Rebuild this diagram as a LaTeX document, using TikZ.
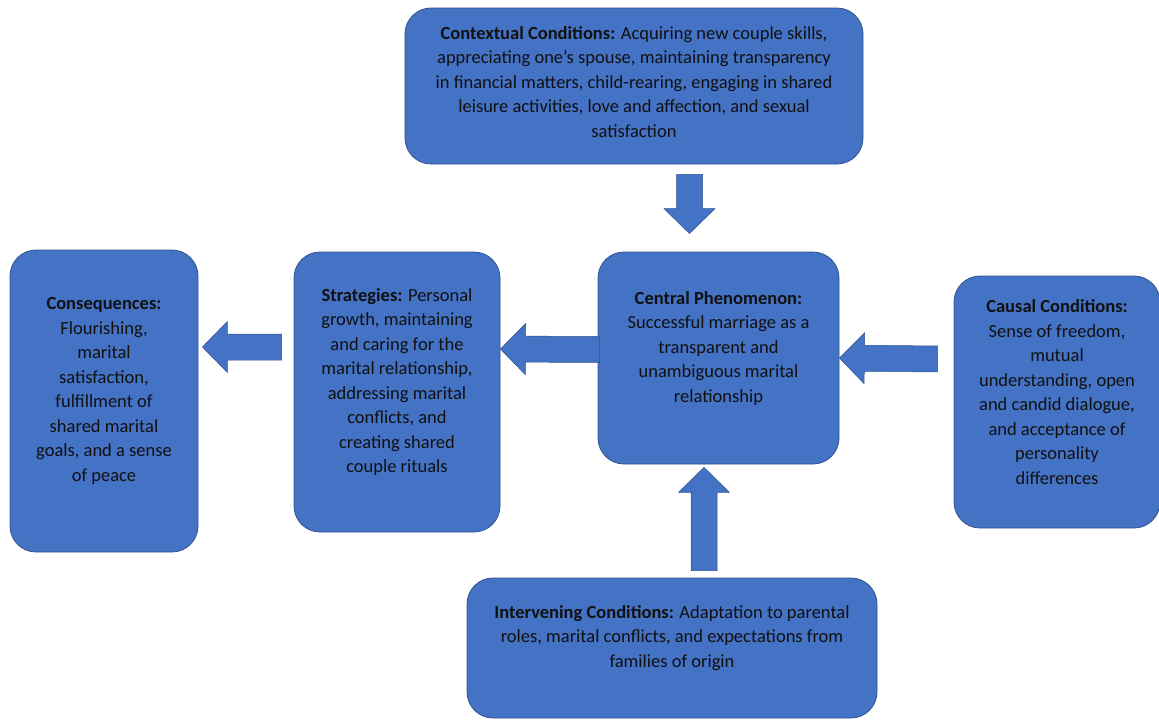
\documentclass[tikz,border=0pt]{standalone}
\usepackage{fontspec}
\setmainfont{Carlito}
\usetikzlibrary{calc}
\definecolor{boxblue}{HTML}{4472C4}
\definecolor{boxline}{HTML}{2F528F}
\definecolor{txtcol}{HTML}{111111}
\tikzset{
  box/.style={draw=boxline, fill=boxblue, line width=0.8pt, rounded corners=26pt, inner sep=0pt},
  txt/.style={align=center, text=txtcol, font=\fontsize{18.5}{24.5}\selectfont, inner sep=0pt},
  arrowfill/.style={fill=boxblue, draw=boxline, line width=0.5pt, line join=miter}
}
% block arrow from #1 to #2 (shaft 26pt, head 51pt x 25pt)
\newcommand\blockarrow[2]{%
  \coordinate (ba-s) at (#1); \coordinate (ba-e) at (#2);
  \coordinate (ba-h) at ($(ba-e)!25pt!(ba-s)$);
  \filldraw[arrowfill] ($(ba-s)!13pt!90:(ba-e)$) -- ($(ba-h)!13pt!-90:(ba-s)$)
    -- ($(ba-h)!25.5pt!-90:(ba-s)$) -- (ba-e) -- ($(ba-h)!25.5pt!90:(ba-s)$)
    -- ($(ba-h)!13pt!90:(ba-s)$) -- ($(ba-s)!13pt!-90:(ba-e)$) -- cycle;}
\begin{document}
\begin{tikzpicture}[x=1pt, y=-1pt]
	\useasboundingbox (0,0) rectangle (1159,720);
	% boxes
	\node[box, minimum width=458pt, minimum height=156pt] (ctx) at (634,86) {};
	\node[box, minimum width=241pt, minimum height=212pt] (cen) at (718.5,358) {};
	\node[box, minimum width=206pt, minimum height=252pt] (cau) at (1057,402) {};
	\node[box, minimum width=206pt, minimum height=280pt] (str) at (397,392) {};
	\node[box, minimum width=188pt, minimum height=302pt] (con) at (104,401) {};
	\node[box, minimum width=410pt, minimum height=140pt] (int) at (672,648) {};
	% texts
	\node[txt] (ctx-t) at ([yshift=4pt]ctx.center) {\textbf{Contextual Conditions:} Acquiring new couple skills,\\
		appreciating one’s spouse, maintaining transparency\\ in financial matters, child-rearing, engaging in shared\\
		leisure activities, love and affection, and sexual\\ satisfaction};
	\node[txt] (cen-t) at ([yshift=10pt]cen.center) {\textbf{Central Phenomenon:}\\ Successful marriage as a\\
		transparent and\\ unambiguous marital\\ relationship};
	\node[txt] (cau-t) at ([yshift=10pt]cau.center) {\textbf{Causal Conditions:}\\ Sense of freedom,\\ mutual\\
		understanding, open\\ and candid dialogue,\\ and acceptance of\\ personality\\ differences};
	\node[txt] (str-t) at ([yshift=10pt]str.center) {\textbf{Strategies:} Personal\\ growth, maintaining\\
		and caring for the\\ marital relationship,\\ addressing marital\\ conflicts, and\\ creating shared\\ couple rituals};
	\node[txt] (con-t) at ([yshift=10pt]con.center) {\textbf{Consequences:}\\ Flourishing,\\ marital\\ satisfaction,\\
		fulfillment of\\ shared marital\\ goals, and a sense\\ of peace};
	\node[txt] (int-t) at ([yshift=10pt]int.center) {\textbf{Intervening Conditions:} Adaptation to parental\\
		roles, marital conflicts, and expectations from\\ families of origin};
	% arrows
	\blockarrow{[xshift=55.5pt,yshift=-10pt]ctx.south}{[xshift=-29pt,yshift=18pt]cen.north}
	\blockarrow{[xshift=-16pt,yshift=43pt]cau.west}{cen.east}
	\blockarrow{[xshift=2pt,yshift=8.5pt]cen.west}{[yshift=43pt]str.east}
	\blockarrow{[xshift=-12pt,yshift=45pt]str.west}{[xshift=4pt,yshift=54pt]con.east}
	\blockarrow{[xshift=32pt,yshift=7pt]int.north}{[xshift=-14.5pt,yshift=-3pt]cen.south}
\end{tikzpicture}
\end{document}
